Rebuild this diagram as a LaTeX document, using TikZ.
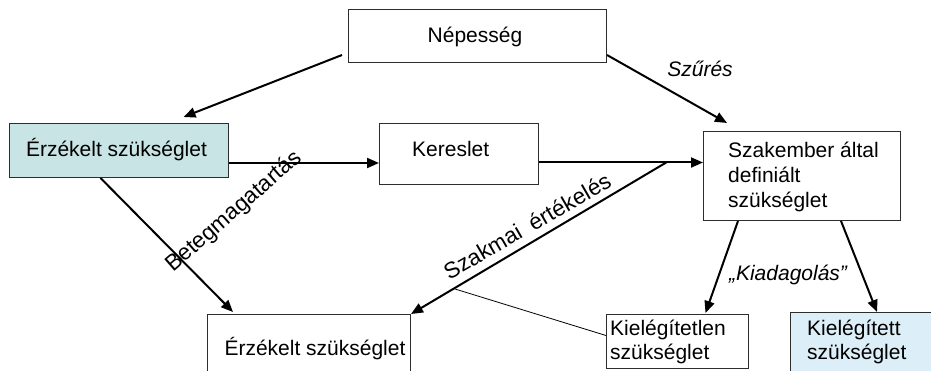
\documentclass[tikz,border=0pt]{standalone}
\usepackage{fontspec}
\setmainfont{Liberation Sans}
\usetikzlibrary{arrows.meta,calc}
\definecolor{tealfill}{RGB}{200,228,228}
\definecolor{bluefill}{RGB}{220,238,247}
\definecolor{framegray}{RGB}{45,45,45}
\begin{document}
\begin{tikzpicture}[x=1pt,y=-1pt,
  every node/.style={font=\fontsize{21}{25}\selectfont, inner sep=0pt},
  frame/.style={draw=framegray, line width=1pt, anchor=north west, rectangle},
  flow/.style={draw=black, line width=2pt, -{Triangle[length=12pt,width=10pt]}},
  thinline/.style={draw=black, line width=0.8pt},
  lbl/.style={font=\fontsize{21}{25}\selectfont\itshape},
  slanted/.style={font=\fontsize{22.5}{26}\selectfont},
]
\useasboundingbox (0,0) rectangle (931,371);
\fill[white] (0,0) rectangle (931,371);
\clip (0,0) rectangle (931,371);

% boxes
\node[frame, minimum width=258pt, minimum height=53pt] (nep) at (348,9) {};
\node[frame, fill=tealfill, minimum width=219pt, minimum height=54pt] (erz1) at (9,123) {};
\node[frame, minimum width=159pt, minimum height=61pt] (ker) at (379,123) {};
\node[frame, minimum width=197pt, minimum height=89pt] (szak) at (703,131) {};
\node[frame, minimum width=203pt, minimum height=70pt] (erz2) at (207,314) {};
\node[frame, minimum width=142pt, minimum height=54pt] (kiel1) at (606,314) {};
\node[frame, fill=bluefill, minimum width=150pt, minimum height=72pt] (kiel2) at (790,312) {};

% box texts (multi-line nodes are anchored at the baseline of their last line)
\node[anchor=base] (nepT) at (475,43) {Népesség};
\node[anchor=base] (erz1T) at (116.5,157) {Érzékelt szükséglet};
\node[anchor=base west] (kerT) at (412,157) {Kereslet};
\node[anchor=base west, align=left] (szakT) at (728,208) {Szakember által\\definiált\\szükséglet};
\node[anchor=base] (erz2T) at (315,355) {Érzékelt szükséglet};
\node[anchor=base west, align=left, font=\fontsize{21}{24}\selectfont] (kiel1T) at (610,359) {Kielégítetlen\\szükséglet};
\node[anchor=base west, align=left, font=\fontsize{21}{24}\selectfont] (kiel2T) at (807,359) {Kielégített\\szükséglet};

% connectors
\coordinate (fork) at (667,162);
\draw[flow] ($(nep.south west)+(-6,-8)$) -- ($(erz1.north)+(64.5,-6)$);
\draw[flow] ($(nep.south east)+(0,-8)$) -- ($(szak.north west)+(24,-8)$);
\draw[flow] ($(erz1.south east)+(0,-15)$) -- ($(ker.south west)+(0,-22)$);
\draw[flow] ($(ker.east)+(0,8.5)$) -- ($(szak.west)+(0,-13.5)$);
\draw[flow] (fork) -- (erz2.north east);
\draw[flow] ($(erz1.south)+(-18.5,0)$) -- ($(erz2.north west)+(26,-2)$);
\draw[thinline] ($(fork)!0.833!(erz2.north east)$) -- ($(kiel1.west)+(0,-6)$);
\draw[flow] ($(szak.south west)+(35,0)$) -- ($(kiel1.north)+(28,-1)$);
\draw[flow] ($(szak.south east)+(-60,0)$) -- ($(kiel2.north west)+(87,0)$);

% connector labels
\node[lbl, anchor=base] (szuresL) at (700,77) {Szűrés};
\node[lbl, anchor=base] (kiadL) at (788,280) {„Kiadagolás”};
\node[slanted, rotate=41] (betegL) at (234,212) {Betegmagatartás};
\node[slanted, rotate=30] (szakmaiL) at (527,226) {Szakmai\hspace{0.5em}értékelés};
\end{tikzpicture}
\end{document}
